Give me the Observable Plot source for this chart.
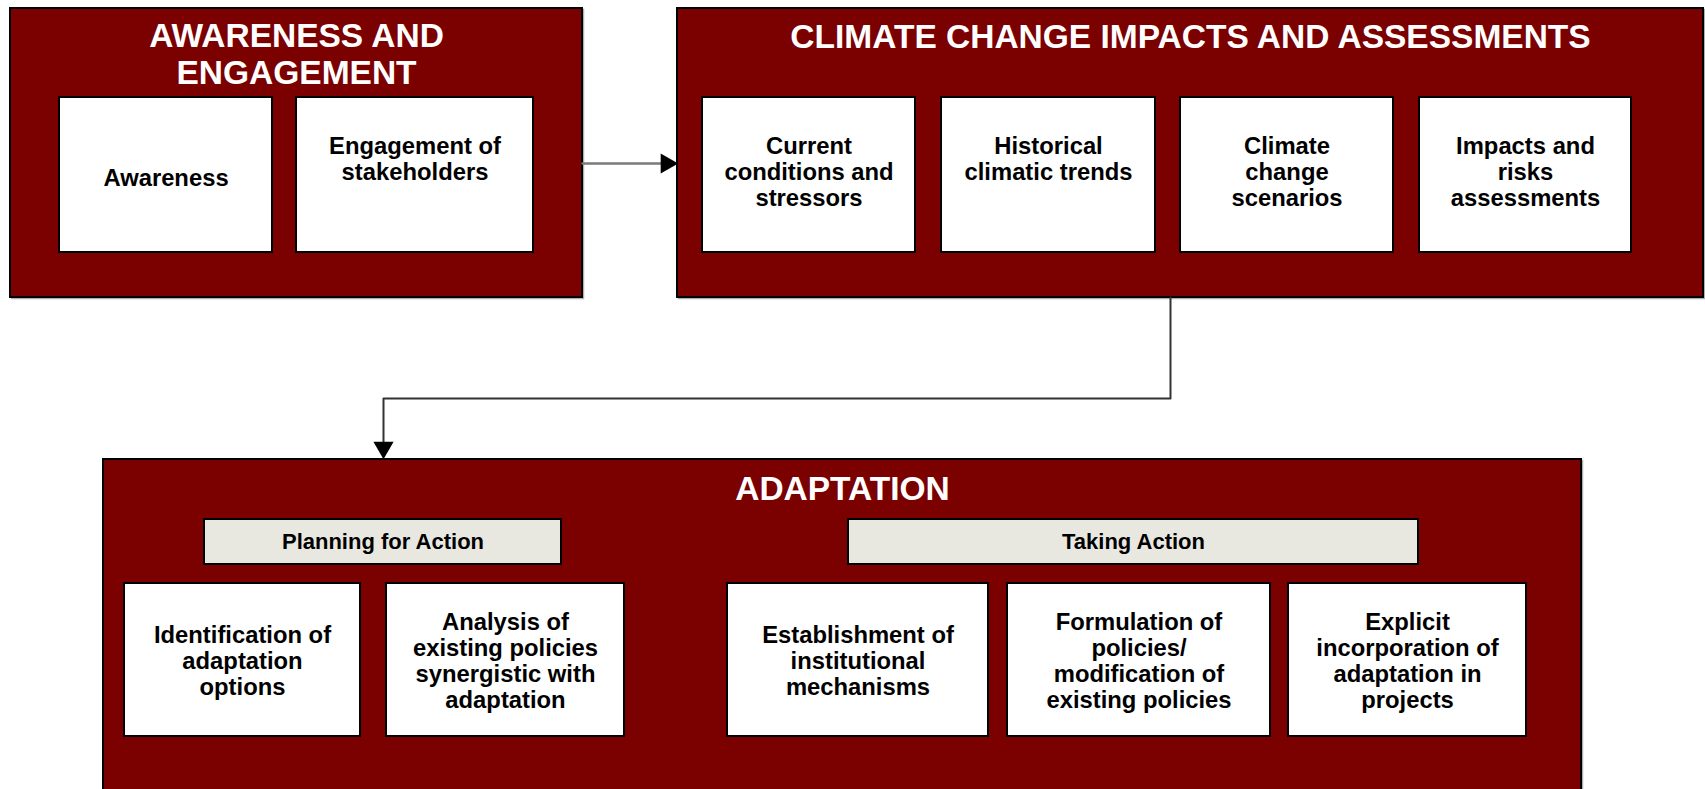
<!DOCTYPE html>
<html>
<head>
<meta charset="utf-8">
<script src="https://cdn.jsdelivr.net/npm/d3@7"></script>
<script src="https://cdn.jsdelivr.net/npm/@observablehq/plot@0.6"></script>
<style>
  html, body { margin: 0; padding: 0; background: #ffffff; }
  svg { display: block; }
</style>
</head>
<body>
<div id="chart"></div>
<script>
// ---- Data (text content of the diagram) ----
const groupTitles = ["AWARENESS AND\nENGAGEMENT", "CLIMATE CHANGE IMPACTS AND ASSESSMENTS", "ADAPTATION"];
const awarenessItems = ["Awareness", "Engagement of\nstakeholders"];
const impactItems = ["Current\nconditions and\nstressors", "Historical\nclimatic trends", "Climate\nchange\nscenarios", "Impacts and\nrisks\nassessments"];
const phaseLabels = ["Planning for Action", "Taking Action"];
const planningItems = ["Identification of\nadaptation\noptions", "Analysis of\nexisting policies\nsynergistic with\nadaptation"];
const takingItems = ["Establishment of\ninstitutional\nmechanisms", "Formulation of\npolicies/\nmodification of\nexisting policies", "Explicit\nincorporation of\nadaptation in\nprojects"];

// ---- Layout (page geometry, kept separate from the data) ----
const W = 1705, H = 789;
const groupBoxes = [
  {x1: 10, y1: 8, x2: 582, y2: 297, ty: 36},
  {x1: 677, y1: 8, x2: 1703, y2: 297, ty: 37},
  {x1: 103, y1: 459, x2: 1581, y2: 820, ty: 489}
];
const topRow = {y1: 97, y2: 252};
const awarenessX = [[59, 272], [296, 533]];
const impactX = [[702, 915], [941, 1155], [1180, 1393], [1419, 1631]];
const phaseRow = {y1: 519, y2: 564};
const phaseX = [[204, 561], [848, 1418]];
const bottomRow = {y1: 583, y2: 736};
const planningX = [[124, 360], [386, 624]];
const takingX = [[727, 988], [1007, 1270], [1288, 1526]];

const RED = "#7b0000";
const FONT = "'Liberation Sans', Arial, Helvetica, sans-serif";

// groups
const groups = groupTitles.map((t, i) => ({...groupBoxes[i], title: t}));
const titleLines = groups.flatMap(g => {
  const lines = g.title.split("\n");
  return lines.map((s, k) => ({x: (g.x1 + g.x2) / 2, y: g.ty + k * 37, s}));
});

// inner white boxes
const items = [
  ...awarenessItems.map((s, i) => ({s, x1: awarenessX[i][0], x2: awarenessX[i][1], ...topRow, row: "top"})),
  ...impactItems.map((s, i) => ({s, x1: impactX[i][0], x2: impactX[i][1], ...topRow, row: "top"})),
  ...planningItems.map((s, i) => ({s, x1: planningX[i][0], x2: planningX[i][1], ...bottomRow, row: "bottom"})),
  ...takingItems.map((s, i) => ({s, x1: takingX[i][0], x2: takingX[i][1], ...bottomRow, row: "bottom"}))
];
const LH = 26;
const itemLines = items.flatMap(b => {
  const lines = b.s.split("\n");
  const n = lines.length;
  const cy = (b.y1 + b.y2) / 2;
  let first;
  if (b.row === "top") first = n === 1 ? cy + 3 : 146;
  else first = cy + 1 - (n - 1) / 2 * LH;
  return lines.map((s, k) => ({x: (b.x1 + b.x2) / 2, y: first + k * LH, s}));
});

const phases = phaseLabels.map((s, i) => ({s, x1: phaseX[i][0], x2: phaseX[i][1], ...phaseRow}));

// connectors
const conn1 = [{x: 582, y: 163}, {x: 665, y: 163}];
const conn2 = [{x: 1170, y: 297}, {x: 1170, y: 398}, {x: 383, y: 398}, {x: 383, y: 446}];
const heads = [
  {x: 666, y: 163, rot: 90},
  {x: 383, y: 447, rot: 180}
];

const allBoxes = [...groups, ...items, ...phases];

const chart = Plot.plot({
  width: W,
  height: H,
  margin: 0,
  style: {background: "#ffffff", fontFamily: FONT},
  x: {domain: [0, W], axis: null},
  y: {domain: [0, H], axis: null, reverse: true},
  marks: [
    // shadows
    Plot.rect(allBoxes, {x1: d => d.x1 + 1.5, x2: d => d.x2 + 1.5, y1: d => d.y1 + 1.5, y2: d => d.y2 + 1.5, fill: "none", stroke: "#b0b0b0", strokeWidth: 1.5}),
    // group boxes
    Plot.rect(groups, {x1: "x1", x2: "x2", y1: "y1", y2: "y2", fill: RED, stroke: "#000", strokeWidth: 2}),
    Plot.text(titleLines, {x: "x", y: "y", text: "s", fill: "#ffffff", fontSize: 33.5, fontWeight: "bold", textAnchor: "middle", lineAnchor: "middle"}),
    // phase boxes
    Plot.rect(phases, {x1: "x1", x2: "x2", y1: "y1", y2: "y2", fill: "#e8e8e1", stroke: "#000", strokeWidth: 2}),
    Plot.text(phases, {x: d => (d.x1 + d.x2) / 2, y: d => (d.y1 + d.y2) / 2, text: "s", fill: "#000", fontSize: 22, fontWeight: "bold", textAnchor: "middle", lineAnchor: "middle"}),
    // white item boxes
    Plot.rect(items, {x1: "x1", x2: "x2", y1: "y1", y2: "y2", fill: "#ffffff", stroke: "#000", strokeWidth: 2}),
    Plot.text(itemLines, {x: "x", y: "y", text: "s", fill: "#000", fontSize: 23.8, fontWeight: "bold", textAnchor: "middle", lineAnchor: "middle"}),
    // connectors
    Plot.line(conn1, {x: "x", y: "y", stroke: "#7a7a7a", strokeWidth: 2.5}),
    Plot.line(conn2, {x: "x", y: "y", stroke: "#333", strokeWidth: 2, curve: "linear"}),
    Plot.dot(heads, {x: "x", y: "y", symbol: "triangle", r: 7.5, fill: "#000", stroke: "none", rotate: "rot"})
  ]
});

document.getElementById("chart").appendChild(chart);
</script>
</body>
</html>
